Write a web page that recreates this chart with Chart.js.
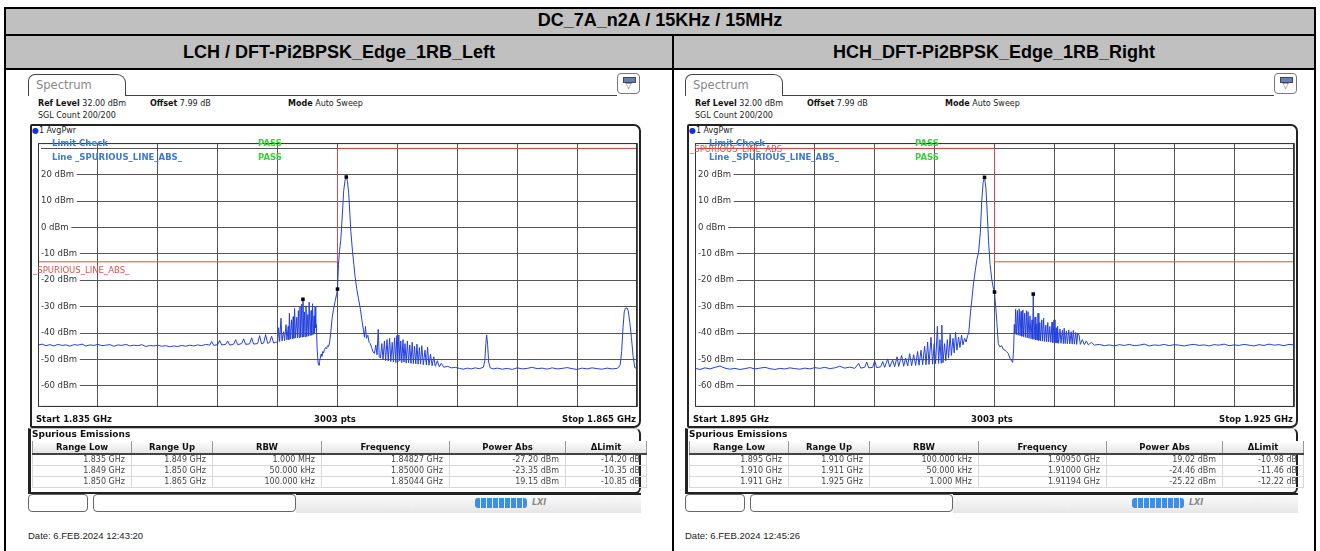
<!DOCTYPE html>
<html>
<head>
<meta charset="utf-8">
<script src="https://cdn.jsdelivr.net/npm/chart.js@4.4.1/dist/chart.umd.min.js"></script>
<style>
  body { margin:0; width:1320px; height:551px; overflow:hidden; background:#fff; position:relative;
         font-family:"Liberation Sans", Arial, sans-serif; }
  .abs { position:absolute; box-sizing:border-box; }
  .hdr { background:#c0c0c0; border:2px solid #000; font-weight:bold; text-align:center; color:#000; }
  .cell { border:2px solid #000; }
  .shot { position:absolute; top:0; width:660px; height:551px; font-family:"DejaVu Sans", sans-serif; font-size:8px; color:#222; }
  .shot .abs { position:absolute; }
  .tab { left:28px; top:74px; width:98px; height:22px; border:1px solid #444; border-bottom:none; border-radius:7px 9px 0 0;
         color:#888; font-size:11.5px; padding:3px 0 0 7px; }
  .tabline { left:125px; top:95px; width:492px; height:1px; background:#444; }
  .menu { left:617px; top:73px; width:23px; height:21px; border:1px solid #777; border-radius:4px; text-align:center; }
  .menu i { position:absolute; left:5px; top:3px; width:11px; height:4px; background:#6a7fb0; border:1px solid #445; }
  .menu b { position:absolute; left:0; top:7px; width:21px; font-size:8px; color:#556; font-weight:normal; }
  .info b { font-weight:bold; color:#111; }
  .frame { left:30px; top:124px; width:611px; height:304px; border:2px solid #222; border-radius:2px 7px 7px 2px; }
  .bottomlab { top:414px; font-weight:bold; font-size:8.5px; color:#111; }
  .spurbox { left:28px; top:428px; width:613px; height:66px; border:2px solid #222; border-left-width:3px; border-radius:0 6px 6px 0; border-top:1px solid #bbb; }
  .spurtitle { left:32px; top:429px; font-weight:bold; font-size:9px; color:#111; }
  table.spur { position:absolute; left:32px; top:441px; width:608px; border-collapse:collapse; font-size:8px; table-layout:fixed; }
  table.spur th { font-weight:bold; font-size:8.5px; height:12px; padding:0; color:#111;
                  background:linear-gradient(#ffffff,#e4e4e4); border-left:1px solid #999; border-right:1px solid #999; border-bottom:2px solid #444; }
  table.spur td { text-align:right; padding:0 6px 0 0; height:10px; line-height:10px; border:1px solid #d8d8d8; color:#444; }
  .sbox { top:494px; height:18px; border:1px solid #666; border-radius:4px; background:#fff; }
  .sbar { left:296px; top:493px; width:345px; height:20px; background:linear-gradient(#fbfbfb,#e6e6e6); border-top:2px solid #222; }
  .prog { left:475px; top:498px; width:52px; height:10px; border-radius:3px;
          background:repeating-linear-gradient(90deg,#3b8fe6 0 5px,#e8f2ff 5px 6px); }
  .faint { color:#f4f4f4; font-size:8px; }
  .date { left:28px; top:530px; font-family:"Liberation Sans", Arial, sans-serif; font-size:9.5px; color:#222; }
  .lc { color:#3a7ad6; font-weight:bold; font-size:8.5px; }
  .pass { color:#3ccf3c; font-weight:bold; font-size:8.5px; }
  .red { color:#e05050; font-size:8.5px; }
  canvas { position:absolute; left:30px; top:135px; }
</style>
</head>
<body>
<div class="abs hdr" style="left:4px;top:7px;width:1312px;height:29px;font-size:18px;line-height:22px;">DC_7A_n2A / 15KHz / 15MHz</div>
<div class="abs hdr" style="left:4px;top:34px;width:670px;height:36px;font-size:18px;line-height:32px;">LCH / DFT-Pi2BPSK_Edge_1RB_Left</div>
<div class="abs hdr" style="left:672px;top:34px;width:644px;height:36px;font-size:18px;line-height:32px;">HCH_DFT-Pi2BPSK_Edge_1RB_Right</div>
<div class="abs cell" style="left:4px;top:68px;width:670px;height:500px;"></div>
<div class="abs cell" style="left:672px;top:68px;width:644px;height:500px;"></div>
<div id="shots"></div>

<script>
// ── Data ──
const colHeads = ['Range Low', 'Range Up', 'RBW', 'Frequency', 'Power Abs', 'ΔLimit'];
const colWidths = [98, 80, 108, 127, 115, 80];

const yGrid   = [-68, -60, -50, -40, -30, -20, -10, 0, 10, 20, 30, 32];
const yLabels = [-60, -50, -40, -30, -20, -10, 0, 10, 20];

const xTicksLeft  = [1835, 1838, 1841, 1844, 1847, 1850, 1853, 1856, 1859, 1862, 1865];
const xTicksRight = [1895, 1898, 1901, 1904, 1907, 1910, 1913, 1916, 1919, 1922, 1925];

const rowsLeft = [
  ['1.835 GHz', '1.849 GHz', '1.000 MHz',   '1.84827 GHz', '-27.20 dBm', '-14.20 dB'],
  ['1.849 GHz', '1.850 GHz', '50.000 kHz',  '1.85000 GHz', '-23.35 dBm', '-10.35 dB'],
  ['1.850 GHz', '1.865 GHz', '100.000 kHz', '1.85044 GHz', '19.15 dBm',  '-10.85 dB'],
];
const rowsRight = [
  ['1.895 GHz', '1.910 GHz', '100.000 kHz', '1.90950 GHz', '19.02 dBm',  '-10.98 dB'],
  ['1.910 GHz', '1.911 GHz', '50.000 kHz',  '1.91000 GHz', '-24.46 dBm', '-11.46 dB'],
  ['1.911 GHz', '1.925 GHz', '1.000 MHz',   '1.91194 GHz', '-25.22 dBm', '-12.22 dB'],
];

const markersLeft  = [[1848.27, -27.20], [1850.00, -23.35], [1850.44, 19.15]];
const markersRight = [[1909.50, 19.02], [1910.00, -24.46], [1911.94, -25.22]];

const limitLeft  = [[1835, -13], [1850, -13], [1850, 30], [1865, 30]];
const limitRight = [[1895, 30], [1910, 30], [1910, -13], [1925, -13]];

// trace, MHz / dBm
const traceLeft = [
  [1835.0,-44.6],[1835.2,-44.2],[1835.4,-44.8],[1835.6,-44.4],[1835.8,-44.9],[1836.0,-44.3],[1836.2,-44.7],[1836.4,-44.5],[1836.6,-45.0],[1836.8,-44.4],
  [1837.0,-44.6],[1837.2,-44.2],[1837.4,-44.9],[1837.6,-44.5],[1837.8,-44.7],[1838.0,-44.3],[1838.2,-44.8],[1838.4,-44.6],[1838.6,-44.4],[1838.8,-45.0],
  [1839.0,-44.5],[1839.2,-44.7],[1839.4,-44.3],[1839.6,-44.9],[1839.8,-44.6],[1840.0,-44.8],[1840.2,-44.4],[1840.4,-45.1],[1840.6,-44.7],[1840.8,-44.9],
  [1841.0,-44.6],[1841.2,-45.0],[1841.4,-44.8],[1841.6,-45.2],[1841.8,-44.9],[1842.0,-45.1],[1842.2,-44.7],[1842.4,-45.0],[1842.6,-44.6],[1842.8,-44.9],
  [1843.0,-44.5],[1843.2,-44.8],[1843.4,-44.3],[1843.6,-44.6],[1843.7,-43.2],[1843.8,-44.7],[1844.0,-44.4],[1844.1,-42.8],[1844.2,-44.5],[1844.4,-44.3],
  [1844.5,-43.0],[1844.6,-44.6],[1844.8,-44.2],[1844.9,-42.5],[1845.0,-44.4],[1845.2,-44.0],[1845.3,-42.2],[1845.4,-44.3],[1845.6,-44.1],[1845.7,-41.8],
  [1845.8,-44.2],[1846.0,-44.0],[1846.1,-41.0],[1846.2,-44.1],[1846.3,-43.8],[1846.4,-40.6],[1846.5,-43.9],[1846.6,-43.6],[1846.7,-41.2],[1846.8,-43.8],
  [1846.9,-43.5],[1847.0,-43.4],[1847.05,-38.0],[1847.1,-43.2],[1847.17,-34.4],[1847.22,-43.0],[1847.3,-39.5],[1847.35,-42.9],[1847.42,-36.8],[1847.47,-42.6],
  [1847.53,-37.5],[1847.56,-42.5],[1847.59,-32.5],[1847.64,-42.3],[1847.7,-35.0],[1847.74,-42.2],[1847.78,-33.8],[1847.81,-42.0],[1847.85,-30.7],[1847.9,-41.9],
  [1847.96,-34.0],[1848.0,-41.8],[1848.04,-31.5],[1848.08,-41.7],[1848.12,-30.1],[1848.16,-41.6],[1848.21,-29.0],[1848.24,-41.5],[1848.27,-27.2],[1848.31,-41.5],
  [1848.35,-32.0],[1848.38,-41.4],[1848.42,-29.7],[1848.46,-41.3],[1848.51,-33.0],[1848.54,-41.2],[1848.58,-28.3],[1848.63,-41.0],[1848.68,-31.5],[1848.71,-40.8],
  [1848.75,-28.9],[1848.79,-40.5],[1848.83,-33.5],[1848.85,-40.0],[1848.88,-30.1],[1848.91,-38.0],[1848.94,-36.8],[1848.98,-46.0],[1849.03,-51.5],[1849.07,-52.2],
  [1849.1,-50.8],[1849.14,-49.5],[1849.18,-48.0],[1849.22,-48.8],[1849.26,-47.0],[1849.3,-47.6],[1849.35,-46.2],[1849.4,-45.5],[1849.45,-46.0],[1849.5,-44.8],
  [1849.55,-45.2],[1849.6,-43.8],[1849.66,-40.0],[1849.73,-34.4],[1849.8,-31.0],[1849.88,-28.0],[1849.95,-25.5],[1850.0,-23.35],[1850.05,-14.0],[1850.1,-9.0],
  [1850.16,-5.0],[1850.22,2.0],[1850.31,14.0],[1850.38,18.0],[1850.44,19.15],[1850.5,17.5],[1850.56,13.0],[1850.62,5.0],[1850.67,-1.6],[1850.75,-9.0],
  [1850.82,-14.0],[1850.88,-18.6],[1850.96,-23.0],[1851.05,-27.0],[1851.15,-31.0],[1851.22,-35.0],[1851.3,-39.0],[1851.35,-41.6],[1851.4,-37.5],[1851.45,-42.0],
  [1851.52,-40.8],[1851.58,-43.5],[1851.64,-44.0],[1851.71,-45.5],[1851.78,-47.2],[1851.85,-47.7],[1851.92,-44.5],[1851.98,-48.3],[1852.04,-38.6],[1852.09,-49.0],
  [1852.15,-49.5],[1852.22,-44.0],[1852.28,-50.1],[1852.35,-43.0],[1852.41,-50.4],[1852.48,-42.5],[1852.54,-50.6],[1852.61,-42.0],[1852.67,-50.8],[1852.74,-43.5],
  [1852.8,-51.0],[1852.86,-41.8],[1852.92,-51.2],[1852.97,-41.0],[1853.02,-51.0],[1853.07,-40.7],[1853.12,-50.5],[1853.17,-43.0],[1853.22,-51.2],[1853.28,-42.5],
  [1853.33,-51.0],[1853.38,-44.0],[1853.44,-51.4],[1853.5,-43.0],[1853.56,-51.3],[1853.62,-44.5],[1853.68,-51.5],[1853.74,-43.5],[1853.8,-51.6],[1853.86,-45.0],
  [1853.92,-51.7],[1853.98,-44.2],[1854.04,-51.8],[1854.1,-45.5],[1854.16,-51.8],[1854.22,-44.8],[1854.3,-52.0],[1854.38,-46.5],[1854.45,-52.1],[1854.51,-45.3],
  [1854.58,-52.2],[1854.66,-48.0],[1854.74,-52.4],[1854.82,-49.0],[1854.9,-52.6],[1855.0,-50.5],[1855.1,-52.8],[1855.2,-51.5],[1855.33,-53.0],[1855.5,-52.6],
  [1855.7,-53.2],[1855.9,-53.0],[1856.1,-53.4],[1856.3,-53.7],[1856.5,-53.3],[1856.7,-53.6],[1856.9,-53.2],[1857.1,-53.5],[1857.3,-53.0],[1857.38,-50.5],
  [1857.43,-44.0],[1857.47,-40.7],[1857.52,-44.5],[1857.57,-51.0],[1857.65,-53.2],[1857.8,-53.6],[1858.0,-53.3],[1858.25,-53.7],[1858.5,-53.4],[1858.75,-53.8],
  [1859.0,-53.2],[1859.25,-53.6],[1859.5,-53.4],[1859.75,-53.0],[1860.0,-53.5],[1860.25,-53.3],[1860.5,-53.7],[1860.75,-53.2],[1861.0,-53.6],[1861.25,-53.4],
  [1861.5,-53.1],[1861.75,-53.5],[1862.0,-53.8],[1862.25,-53.3],[1862.5,-53.6],[1862.75,-53.2],[1863.0,-53.5],[1863.25,-53.7],[1863.5,-53.3],[1863.75,-53.6],
  [1864.0,-53.4],[1864.08,-53.0],[1864.16,-52.0],[1864.23,-47.0],[1864.3,-38.0],[1864.36,-32.0],[1864.42,-30.6],[1864.5,-30.5],[1864.56,-31.5],[1864.64,-36.0],
  [1864.72,-41.6],[1864.8,-48.5],[1864.89,-53.1],[1865.0,-53.4],
];

const traceRight = [
  [1895.0,-53.4],[1895.25,-53.8],[1895.5,-53.2],[1895.75,-53.6],[1896.0,-53.0],[1896.25,-52.5],[1896.5,-53.3],[1896.75,-53.7],[1897.0,-53.4],[1897.25,-53.8],
  [1897.5,-53.5],[1897.75,-53.1],[1898.0,-53.6],[1898.25,-53.3],[1898.5,-53.0],[1898.75,-53.5],[1899.0,-53.8],[1899.25,-53.4],[1899.5,-53.6],[1899.75,-53.2],
  [1900.0,-53.5],[1900.25,-53.7],[1900.5,-53.3],[1900.75,-53.6],[1901.0,-53.1],[1901.25,-53.4],[1901.5,-53.0],[1901.75,-53.5],[1902.0,-53.2],[1902.25,-52.6],
  [1902.5,-53.3],[1902.75,-52.9],[1903.0,-53.4],[1903.2,-51.5],[1903.3,-53.3],[1903.5,-53.0],[1903.6,-51.0],[1903.7,-53.2],[1903.9,-53.0],[1904.0,-50.5],
  [1904.1,-53.1],[1904.3,-52.8],[1904.4,-50.8],[1904.5,-53.0],[1904.65,-49.8],[1904.75,-52.9],[1904.9,-50.2],[1905.0,-52.8],[1905.12,-49.0],[1905.2,-52.7],
  [1905.35,-48.5],[1905.45,-52.6],[1905.55,-49.5],[1905.65,-52.5],[1905.75,-47.8],[1905.85,-52.4],[1905.95,-48.2],[1906.05,-52.3],[1906.15,-47.0],[1906.22,-52.2],
  [1906.32,-46.5],[1906.4,-52.1],[1906.5,-45.0],[1906.57,-52.0],[1906.65,-43.4],[1906.72,-51.9],[1906.82,-41.6],[1906.9,-51.8],[1906.98,-44.0],[1907.05,-51.6],
  [1907.14,-37.4],[1907.2,-51.5],[1907.27,-42.5],[1907.33,-51.4],[1907.36,-37.0],[1907.42,-51.2],[1907.5,-44.0],[1907.56,-50.5],[1907.64,-42.5],[1907.7,-49.5],
  [1907.78,-40.5],[1907.84,-48.5],[1907.92,-42.0],[1907.98,-47.5],[1908.05,-39.7],[1908.12,-46.5],[1908.2,-41.5],[1908.27,-45.5],[1908.35,-40.8],[1908.42,-44.5],
  [1908.5,-42.0],[1908.58,-43.4],[1908.65,-41.0],[1908.71,-40.0],[1908.8,-32.0],[1908.87,-27.1],[1908.95,-21.0],[1909.04,-16.2],[1909.12,-12.0],[1909.2,-9.5],
  [1909.29,-2.0],[1909.36,10.0],[1909.43,17.0],[1909.5,19.02],[1909.57,15.0],[1909.64,5.0],[1909.7,-5.0],[1909.78,-14.0],[1909.86,-19.5],[1909.94,-23.0],
  [1910.0,-24.46],[1910.06,-30.0],[1910.12,-36.0],[1910.19,-44.0],[1910.27,-45.3],[1910.36,-44.8],[1910.44,-46.2],[1910.52,-46.5],[1910.6,-47.0],[1910.69,-47.7],
  [1910.77,-49.5],[1910.85,-50.5],[1910.91,-51.1],[1910.96,-46.0],[1910.99,-36.8],[1911.02,-40.4],[1911.06,-31.0],[1911.1,-40.6],[1911.15,-31.5],[1911.19,-40.8],
  [1911.24,-30.8],[1911.28,-41.0],[1911.33,-31.8],[1911.37,-41.2],[1911.42,-31.2],[1911.46,-41.4],[1911.51,-32.5],[1911.55,-41.6],[1911.6,-31.5],[1911.64,-41.8],
  [1911.68,-31.9],[1911.73,-42.0],[1911.78,-33.5],[1911.83,-42.2],[1911.88,-35.0],[1911.91,-42.3],[1911.94,-25.22],[1911.98,-42.4],[1912.03,-34.0],[1912.07,-42.6],
  [1912.12,-36.5],[1912.15,-42.7],[1912.18,-32.5],[1912.22,-42.8],[1912.27,-36.0],[1912.31,-43.0],[1912.37,-35.0],[1912.41,-43.1],[1912.46,-34.4],[1912.51,-43.2],
  [1912.57,-37.0],[1912.61,-43.3],[1912.67,-36.0],[1912.71,-43.4],[1912.77,-37.5],[1912.82,-43.5],[1912.88,-35.8],[1912.92,-43.6],[1912.98,-35.0],[1913.03,-43.7],
  [1913.09,-38.0],[1913.13,-43.8],[1913.16,-37.4],[1913.21,-43.9],[1913.28,-38.5],[1913.33,-43.9],[1913.4,-39.0],[1913.45,-44.0],[1913.49,-38.2],[1913.54,-44.0],
  [1913.6,-39.2],[1913.65,-44.1],[1913.72,-38.8],[1913.77,-44.1],[1913.84,-39.5],[1913.89,-44.2],[1913.95,-39.0],[1914.0,-44.2],[1914.07,-39.8],[1914.12,-44.3],
  [1914.17,-40.2],[1914.23,-40.7],[1914.3,-44.3],[1914.4,-42.5],[1914.5,-44.4],[1914.6,-43.0],[1914.7,-44.5],[1914.85,-43.5],[1915.0,-44.6],[1915.25,-44.3],
  [1915.5,-44.8],[1915.75,-44.5],[1916.0,-44.9],[1916.25,-44.4],[1916.5,-44.7],[1916.75,-44.3],[1917.0,-44.8],[1917.25,-44.6],[1917.5,-44.2],[1917.75,-44.9],
  [1918.0,-44.5],[1918.25,-44.7],[1918.5,-44.3],[1918.75,-44.8],[1919.0,-44.4],[1919.25,-44.6],[1919.5,-44.9],[1919.75,-44.5],[1920.0,-44.3],[1920.25,-44.7],
  [1920.5,-44.5],[1920.75,-44.9],[1921.0,-44.4],[1921.25,-44.6],[1921.5,-44.2],[1921.75,-44.8],[1922.0,-44.5],[1922.25,-44.7],[1922.5,-44.3],[1922.75,-44.6],
  [1923.0,-44.9],[1923.25,-44.4],[1923.5,-44.7],[1923.75,-44.2],[1924.0,-44.6],[1924.25,-44.4],[1924.5,-44.8],[1924.75,-44.3],[1925.0,-44.5],
];

const panels = [
  { dx: 0,   start: '1.835 GHz', stop: '1.865 GHz', rows: rowsLeft,  date: 'Date: 6.FEB.2024  12:43:20',
    trace: traceLeft,  limit: limitLeft,  markers: markersLeft,  xTicks: xTicksLeft,  redLabelTop: 265 },
  { dx: 657, start: '1.895 GHz', stop: '1.925 GHz', rows: rowsRight, date: 'Date: 6.FEB.2024  12:45:26',
    trace: traceRight, limit: limitRight, markers: markersRight, xTicks: xTicksRight, redLabelTop: 144 },
];

// ── frame round the grid ──
const framePlugin = {
  id: 'frame',
  afterDraw(chart) {
    const a = chart.chartArea, ctx = chart.ctx;
    ctx.save();
    ctx.strokeStyle = '#333';
    ctx.lineWidth = 1;
    ctx.strokeRect(a.left + 0.5, a.top + 0.5, a.right - a.left - 1, a.bottom - a.top - 1);
    ctx.restore();
  }
};

function toXY(arr) { return arr.map(p => ({ x: p[0], y: p[1] })); }

function panelHtml(p, idx) {
  const head = colHeads.map((h, i) => '<th style="width:' + colWidths[i] + 'px">' + h + '</th>').join('');
  const body = p.rows.map(r => '<tr>' + r.map(c => '<td>' + c + '</td>').join('') + '</tr>').join('');
  return '<div class="shot" style="left:' + p.dx + 'px">' +
    '<div class="abs tab">Spectrum</div>' +
    '<div class="abs tabline"></div>' +
    '<div class="abs menu"><i></i><b>▽</b></div>' +
    '<div class="abs info" style="left:38px;top:99px"><b>Ref Level</b> 32.00 dBm</div>' +
    '<div class="abs info" style="left:150px;top:99px"><b>Offset</b> 7.99 dB</div>' +
    '<div class="abs info" style="left:288px;top:99px"><b>Mode</b> Auto Sweep</div>' +
    '<div class="abs info" style="left:38px;top:111px">SGL Count 200/200</div>' +
    '<div class="abs frame"></div>' +
    '<div class="abs" style="left:32px;top:126px"><span style="color:#1530d0">●</span>1 AvgPwr</div>' +
    '<canvas id="c' + idx + '" width="611" height="280"></canvas>' +
    '<div class="abs lc" style="left:52px;top:138px">Limit Check</div>' +
    '<div class="abs lc" style="left:52px;top:152px">Line _SPURIOUS_LINE_ABS_</div>' +
    '<div class="abs pass" style="left:258px;top:138px">PASS</div>' +
    '<div class="abs pass" style="left:258px;top:152px">PASS</div>' +
    '<div class="abs red" style="left:33px;top:' + p.redLabelTop + 'px">_SPURIOUS_LINE_ABS_</div>' +
    '<div class="abs bottomlab" style="left:36px">Start ' + p.start + '</div>' +
    '<div class="abs bottomlab" style="left:300px;width:70px;text-align:center">3003 pts</div>' +
    '<div class="abs bottomlab" style="left:536px;width:100px;text-align:right">Stop ' + p.stop + '</div>' +
    '<div class="abs spurbox"></div>' +
    '<div class="abs spurtitle">Spurious Emissions</div>' +
    '<table class="spur"><tr>' + head + '</tr>' + body + '</table>' +
    '<div class="abs sbox" style="left:28px;width:60px"></div>' +
    '<div class="abs sbox" style="left:93px;width:203px"></div>' +
    '<div class="abs sbar"></div>' +
    '<div class="abs faint" style="left:390px;top:499px">Ready</div>' +
    '<div class="abs prog"></div>' +
    '<div class="abs" style="left:532px;top:498px;font-size:8px;font-weight:bold;color:#888;font-style:italic">LXI</div>' +
    '<div class="abs faint" style="left:596px;top:496px;font-size:7px">06.02.2024</div>' +
    '<div class="abs date">' + p.date + '</div>' +
  '</div>';
}

document.getElementById('shots').innerHTML = panels.map(panelHtml).join('');

panels.forEach((p, idx) => {
  const canvas = document.getElementById('c' + idx);
  new Chart(canvas, {
    type: 'scatter',
    data: {
      datasets: [
        { data: toXY(p.markers), showLine: false, pointStyle: 'rect', pointRadius: 2.5,
          backgroundColor: '#000', borderColor: '#000', borderWidth: 0, order: 1 },
        { data: toXY(p.trace), showLine: true, borderColor: '#2440dc', borderWidth: 1,
          pointRadius: 0, tension: 0, order: 2 },
        { data: toXY(p.limit), showLine: true, borderColor: '#e04848', borderWidth: 1,
          pointRadius: 0, tension: 0, order: 3 },
      ],
    },
    options: {
      responsive: false, animation: false, devicePixelRatio: 1,
      layout: { padding: 2 },
      plugins: { legend: { display: false }, tooltip: { enabled: false } },
      scales: {
        x: {
          type: 'linear', min: p.xTicks[0], max: p.xTicks[p.xTicks.length - 1],
          afterBuildTicks: s => { s.ticks = p.xTicks.map(v => ({ value: v })); },
          ticks: { display: false },
          grid: { color: '#555', lineWidth: 1, drawTicks: false },
          border: { display: false },
        },
        y: {
          min: -68, max: 32,
          afterBuildTicks: s => { s.ticks = yGrid.map(v => ({ value: v })); },
          ticks: {
            mirror: true, padding: 3, z: 1, color: '#333',
            font: { family: 'DejaVu Sans', size: 8.5 },
            showLabelBackdrop: true, backdropColor: '#fff',
            backdropPadding: { left: 3, right: 0, top: 0, bottom: 0 },
            callback: v => yLabels.includes(v) ? v + ' dBm ' : '',
          },
          grid: { color: '#555', lineWidth: 1, drawTicks: false },
          border: { display: false },
        },
      },
    },
    plugins: [framePlugin],
  });
});
</script>
</body>
</html>
